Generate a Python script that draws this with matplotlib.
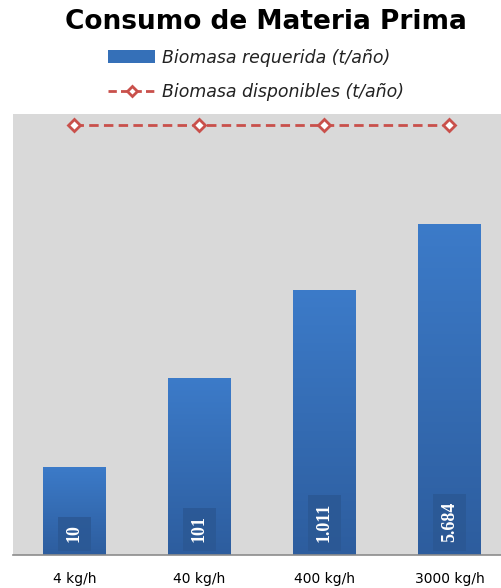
import numpy as np
import matplotlib
matplotlib.use('Agg')
import matplotlib.pyplot as plt
from matplotlib.colors import LinearSegmentedColormap
from matplotlib.lines import Line2D
from matplotlib.patches import Patch

# data
categories = ["4 kg/h", "40 kg/h", "400 kg/h", "3000 kg/h"]
requerida = [10, 101, 1011, 5684]
requerida_lbl = ["10", "101", "1.011", "5.684"]
disponibles = [75000, 75000, 75000, 75000]

W, H = 502, 588
fig = plt.figure(figsize=(W/100, H/100), dpi=100)
fig.patch.set_facecolor('white')

# plot area in pixel terms
left, right, top, bottom = 13, 502, 114, 555
ax = fig.add_axes([left/W, 1-bottom/H, (right-left)/W, (bottom-top)/H])
ax.set_facecolor('#d9d9d9')
ax.set_yscale('log')
ax.set_ylim(1, 1e5)
ax.set_xlim(-0.49, 3.42)

x = np.arange(len(categories))
bars = ax.bar(x, requerida, width=0.5, color='#3570b8', zorder=2)

# vertical gradient in each bar
cmap = LinearSegmentedColormap.from_list('b', ['#2d5d9e', '#3c7bc9'])
grad = np.linspace(0, 1, 256).reshape(-1, 1)
for b in bars:
    x0, x1 = b.get_x(), b.get_x() + b.get_width()
    p0 = ax.transAxes.inverted().transform(ax.transData.transform((x0, 1)))
    p1 = ax.transAxes.inverted().transform(ax.transData.transform((x1, b.get_height())))
    im = ax.imshow(grad, cmap=cmap, origin='lower', aspect='auto',
                   extent=[p0[0], p1[0], p0[1], p1[1]], transform=ax.transAxes, zorder=2.5)
    im.set_clip_path(b)

ax.set_xlim(-0.49, 3.42)
ax.set_ylim(1, 1e5)

ax.plot(x, disponibles, color='#c9504b', ls=(0, (3.4, 1.9)), lw=2,
        marker='D', ms=6, mfc='white', mec='#c9504b', mew=2, zorder=3)

for xi, lbl in zip(x, requerida_lbl):
    ax.annotate(lbl, xy=(xi, 1), xytext=(0, 9), textcoords='offset points',
                rotation=90, ha='center', va='bottom', color='white',
                fontsize=13, fontweight='bold', family='Liberation Serif', zorder=4,
                bbox=dict(boxstyle='square,pad=0.45', fc='#2b5894', ec='none', alpha=0.85))

for s in ['top', 'right', 'left']:
    ax.spines[s].set_visible(False)
ax.spines['bottom'].set_color('#8c8c8c')
ax.spines['bottom'].set_linewidth(1.2)
ax.set_yticks([])
ax.yaxis.set_minor_locator(matplotlib.ticker.NullLocator())
ax.set_xticks(x)
ax.set_xticklabels(categories, fontsize=10, family='DejaVu Sans')
ax.tick_params(axis='x', length=0, pad=12)

fig.text(0.53, 1-22/H, "Consumo de Materia Prima", ha='center', va='center',
         fontsize=19, fontweight='bold', family='DejaVu Sans')

handles = [Patch(facecolor='#3570b8', edgecolor='none'),
           Line2D([], [], color='#c9504b', ls=(0, (3, 1.5)), lw=2, marker='D', ms=5,
                  mfc='white', mec='#c9504b', mew=2)]
labels = ["Biomasa requerida (t/año)", "Biomasa disponibles (t/año)"]
leg = fig.legend(handles, labels, loc='center', bbox_to_anchor=(0.51, 1-75/H),
                 frameon=False, prop={'style': 'italic', 'size': 12.5, 'family': 'DejaVu Sans'},
                 handlelength=2.7, handleheight=0.8, handletextpad=0.4, labelspacing=0.95)
for t in leg.get_texts():
    t.set_color('#222222')

fig.savefig('out.png', dpi=100)
